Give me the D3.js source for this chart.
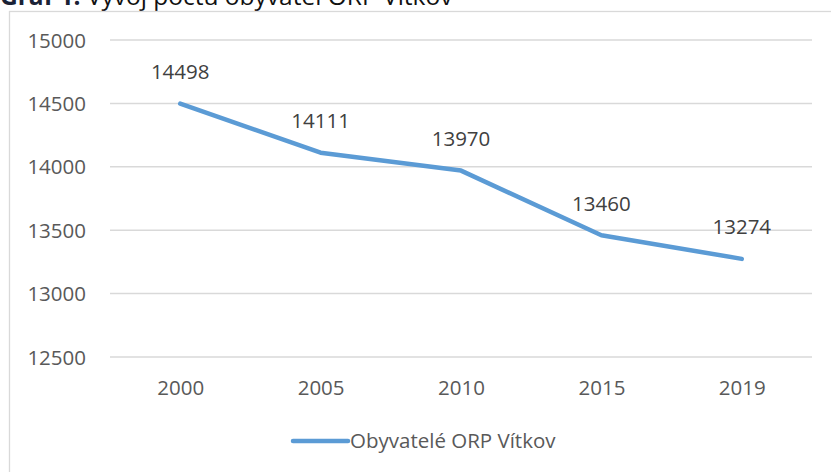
<!DOCTYPE html>
<html>
<head>
<meta charset="utf-8">
<script src="https://cdn.jsdelivr.net/npm/d3@7"></script>
<style>
  html, body { margin: 0; padding: 0; background: #fff; }
  svg { display: block; }
  text { font-family: "Open Sans", sans-serif; }
</style>
</head>
<body>
<svg id="chart" width="831" height="472"></svg>
<script>
const titleBold = "Graf 1:";
const titleRest = " Vývoj počtu obyvatel ORP Vítkov";
const categories = ["2000", "2005", "2010", "2015", "2019"];
const seriesName = "Obyvatelé ORP Vítkov";
const values = [14498, 14111, 13970, 13460, 13274];
const yTicks = [12500, 13000, 13500, 14000, 14500, 15000];

const svg = d3.select("#chart");
const textColor = "#595959";
const lineColor = "#5B9BD5";
const gridColor = "#d9d9d9";
const fs = 20.5;

// title (partly cut off by the top edge, as in the reference)
const title = svg.append("text").attr("x", 0).attr("y", 5)
  .attr("font-size", 24.5).attr("fill", "#111");
title.append("tspan").attr("font-weight", "bold").attr("fill", "#1a2236").text(titleBold);
title.append("tspan").text(titleRest);

// chart area border
svg.append("rect").attr("x", 9.5).attr("y", 11.5).attr("width", 840).attr("height", 480)
  .attr("fill", "none").attr("stroke", gridColor).attr("stroke-width", 1.3);

const x = d3.scalePoint().domain(categories).range([110, 812]).padding(0.5);
const y = d3.scaleLinear().domain([12500, 15000]).range([357, 40]);

// gridlines
svg.append("g").selectAll("line").data(yTicks).join("line")
  .attr("x1", 110).attr("x2", 812)
  .attr("y1", d => y(d)).attr("y2", d => y(d))
  .attr("stroke", gridColor).attr("stroke-width", 1.5);

// y axis labels
const yAxis = d3.axisLeft(y).tickValues(yTicks).tickSize(0).tickPadding(0).tickFormat(d3.format("d"));
const gy = svg.append("g").attr("transform", "translate(86,0)").call(yAxis);
gy.select(".domain").remove();
gy.selectAll("text").attr("font-size", fs).attr("fill", textColor)
  .attr("font-family", "Open Sans, sans-serif").attr("dy", "0.35em");

// x axis labels
const xAxis = d3.axisBottom(x).tickSize(0).tickPadding(0);
const gx = svg.append("g").attr("transform", "translate(0,380)").call(xAxis);
gx.select(".domain").remove();
gx.selectAll("text").attr("font-size", fs).attr("fill", textColor)
  .attr("font-family", "Open Sans, sans-serif").attr("dy", "0.71em");

// line
const data = categories.map((c, i) => ({c, v: values[i]}));
svg.append("path").datum(data)
  .attr("fill", "none").attr("stroke", lineColor).attr("stroke-width", 4.5)
  .attr("stroke-linejoin", "round").attr("stroke-linecap", "round")
  .attr("d", d3.line().x(d => x(d.c)).y(d => y(d.v)));

// data labels
svg.append("g").selectAll("text").data(data).join("text")
  .attr("x", d => x(d.c)).attr("y", d => y(d.v) - 24.5)
  .attr("text-anchor", "middle").attr("font-size", fs).attr("fill", "#404040")
  .text(d => d.v);

// legend
const lg = svg.append("g");
lg.append("line").attr("x1", 293).attr("x2", 348).attr("y1", 441).attr("y2", 441)
  .attr("stroke", lineColor).attr("stroke-width", 4.5).attr("stroke-linecap", "round");
lg.append("text").attr("x", 350).attr("y", 448).attr("font-size", fs).attr("fill", textColor)
  .text(seriesName);
</script>
</body>
</html>
